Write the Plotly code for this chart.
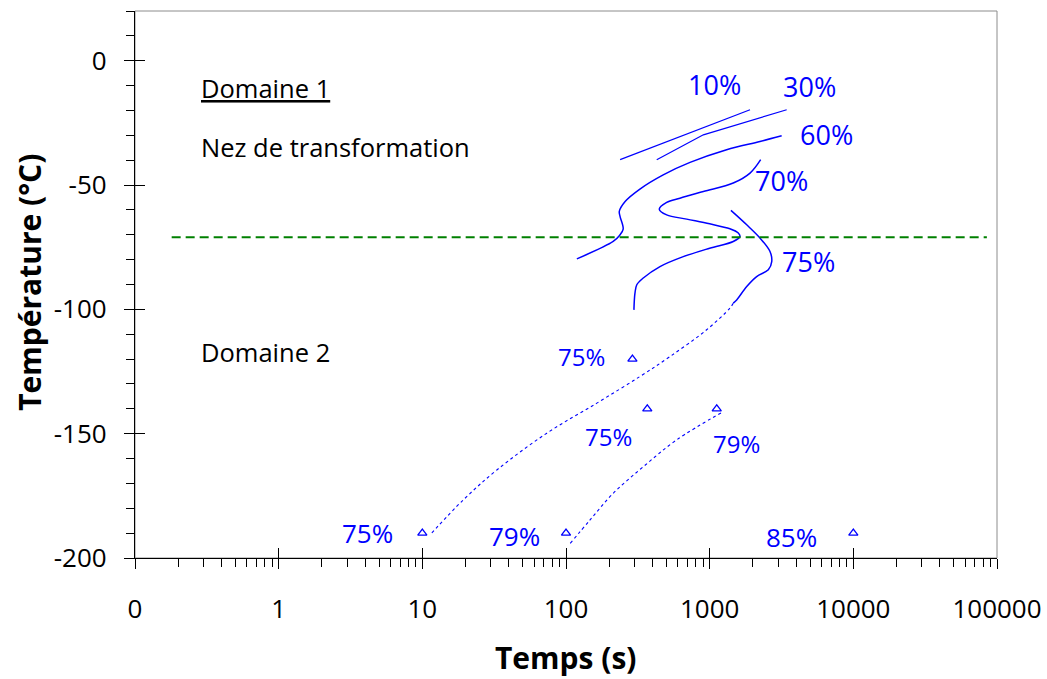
import math
import plotly.graph_objects as go

# ---------------- data ----------------
c10_t = [238, 1910]
c10_T = [-39.8, -19.7]
c30_t = [428, 904, 3436]
c30_T = [-39.8, -29.8, -19.7]
c60_t = [119, 213, 235, 250, 238, 235, 258, 327, 475, 730, 1312, 2239, 3170]
c60_T = [-79.7, -72.7, -70.4, -67.7, -62.7, -60.6, -56.6, -51.6, -45.9, -40.9, -35.8, -32.5, -30.2]
c70_t = [2265, 1910, 1459, 904, 621, 502, 446, 502, 692, 1000, 1383, 1582, 1625,
         1459, 1000, 655, 451, 345, 311, 302, 297]
c70_T = [-39.8, -45.2, -49.2, -52.6, -55.3, -57.0, -59.7, -62.0, -63.7, -65.6, -67.6, -69.3, -70.7,
         -72.7, -75.4, -78.8, -82.8, -87.4, -90.1, -93.5, -100.2]
c75_t = [1406, 1811, 2239, 2630, 2704, 2560, 2124, 1811, 1542, 1459]
c75_T = [-60.2, -66.0, -71.3, -76.7, -80.8, -84.1, -86.8, -90.8, -96.2, -97.5]
c75d_t = [1459, 1383, 953, 529, 327, 164, 73.5, 33, 19.3, 11.3]
c75d_T = [-97.5, -99.5, -108.2, -119.0, -127.0, -137.7, -149.8, -164.6, -176.6, -190.7]
c79d_t = [107, 147, 213, 345, 589, 1245]
c79d_T = [-194.1, -184.7, -174.0, -163.3, -152.5, -141.1]
pts_t = [290, 368, 1120, 10, 100, 10000]
pts_T = [-120, -140, -140, -190, -190, -190]
nose_t = [0.18, 85000]
nose_T = [-71, -71]

big_labels = ["10%", "30%", "60%", "70%", "75%"]
big_t = [1072, 4989, 6457, 3184, 4909]
big_T = [-9.7, -10.5, -29.8, -48.3, -80.9]
small_labels = ["75%", "75%", "79%"]
small_t = [129, 199, 1549]
small_T = [-119.1, -151.3, -154.1]
bottom_labels = ["75%", "79%", "85%"]
bottom_t = [4.12, 43.5, 3741]
bottom_T = [-189.9, -191.1, -191.5]
domain_texts = ["<u>Domaine 1</u>", "Nez de transformation", "Domaine 2"]
domain_t = [0.279, 0.279, 0.279]
domain_T = [-10.9, -34.6, -117.1]

x_tickvals = [0.1, 1, 10, 100, 1000, 10000, 100000]
x_ticktext = ["0", "1", "10", "100", "1000", "10000", "100000"]
x_minor = [k * 10.0 ** n for n in range(-1, 5) for k in range(2, 10)]
y_tickvals = [0, -50, -100, -150, -200]
y_ticktext = ["0", "-50", "-100", "-150", "-200"]

BLUE = "#0000FF"
FONT = "Open Sans"

fig = go.Figure()

for t, T in [(c10_t, c10_T), (c30_t, c30_T)]:
    fig.add_trace(go.Scatter(x=t, y=T, mode="lines", line=dict(color=BLUE, width=1.2),
                             showlegend=False, hoverinfo="skip"))
for t, T in [(c60_t, c60_T), (c70_t, c70_T), (c75_t, c75_T)]:
    fig.add_trace(go.Scatter(x=t, y=T, mode="lines", line=dict(color=BLUE, width=1.5),
                             line_shape="spline", showlegend=False, hoverinfo="skip"))
for t, T in [(c75d_t, c75d_T), (c79d_t, c79d_T)]:
    fig.add_trace(go.Scatter(x=t, y=T, mode="lines", line_shape="spline",
                             line=dict(color=BLUE, width=1.1, dash="3px,3px"),
                             showlegend=False, hoverinfo="skip"))
fig.add_trace(go.Scatter(x=nose_t, y=nose_T, mode="lines",
                         line=dict(color="#008000", width=2, dash="9px,5px"),
                         showlegend=False, hoverinfo="skip"))
fig.add_trace(go.Scatter(x=pts_t, y=pts_T, mode="markers",
                         marker=dict(symbol="triangle-up-open", size=8, color=BLUE,
                                     line=dict(width=1.3, color=BLUE)),
                         showlegend=False, hoverinfo="skip"))
# dummy traces for the overlay axes (inner half of major ticks)
fig.add_trace(go.Scatter(x=[], y=[], xaxis="x2", yaxis="y", showlegend=False))
fig.add_trace(go.Scatter(x=[], y=[], xaxis="x", yaxis="y2", showlegend=False))

ann = []
for txt, t, T in zip(big_labels, big_t, big_T):
    ann.append(dict(x=math.log10(t), y=T, xref="x", yref="y", text=txt, showarrow=False,
                    font=dict(family=FONT, size=27, color=BLUE)))
for txt, t, T in zip(small_labels, small_t, small_T):
    ann.append(dict(x=math.log10(t), y=T, xref="x", yref="y", text=txt, showarrow=False,
                    font=dict(family=FONT, size=24, color=BLUE)))
for txt, t, T in zip(bottom_labels, bottom_t, bottom_T):
    ann.append(dict(x=math.log10(t), y=T, xref="x", yref="y", text=txt, showarrow=False,
                    font=dict(family=FONT, size=26, color=BLUE)))
for txt, t, T in zip(domain_texts, domain_t, domain_T):
    ann.append(dict(x=math.log10(t), y=T, xref="x", yref="y", text=txt, showarrow=False,
                    xanchor="left", font=dict(family=FONT, size=25.5, color="black")))
ann.append(dict(x=0.5, y=-0.182, xref="paper", yref="paper", text="<b>Temps (s)</b>",
                showarrow=False, xanchor="center", yanchor="middle",
                font=dict(family=FONT, size=30, color="black")))
ann.append(dict(x=-0.1218, y=0.503, xref="paper", yref="paper", text="<b>Température (°C)</b>",
                showarrow=False, xanchor="center", yanchor="middle", textangle=-90,
                font=dict(family=FONT, size=30, color="black")))

axis_common = dict(showgrid=False, zeroline=False, tickcolor="black", tickwidth=1,
                   automargin=False)

fig.update_layout(
    width=1047, height=679,
    margin=dict(l=135, r=50, t=11, b=121, autoexpand=False),
    paper_bgcolor="white", plot_bgcolor="white",
    font=dict(family=FONT, size=26, color="black"),
    annotations=ann,
    shapes=[dict(type="rect", xref="paper", yref="paper", x0=0, x1=1, y0=0, y1=1,
                 line=dict(color="#8c8c8c", width=1), layer="below")],
    xaxis=dict(type="log", range=[-1, 5], showline=True, linecolor="black", linewidth=1.2,
               ticks="outside", ticklen=10, tickvals=x_tickvals, ticktext=x_ticktext,
               ticklabelstandoff=18,
               minor=dict(tickvals=x_minor, ticks="outside", ticklen=8, tickcolor="black",
                          showgrid=False),
               **axis_common),
    xaxis2=dict(type="log", range=[-1, 5], overlaying="x", anchor="y", side="bottom",
                ticks="inside", ticklen=10, tickvals=x_tickvals, showticklabels=False,
                showline=False, **axis_common),
    yaxis=dict(range=[-200, 20], showline=True, linecolor="black", linewidth=1.2,
               ticks="outside", ticklen=10, tickvals=y_tickvals, ticktext=y_ticktext,
               ticklabelstandoff=12,
               minor=dict(dtick=10, ticks="outside", ticklen=8, tickcolor="black",
                          showgrid=False),
               **axis_common),
    yaxis2=dict(range=[-200, 20], overlaying="y", anchor="x", side="left",
                ticks="inside", ticklen=10, tickvals=y_tickvals,
                showticklabels=False, showline=False, **axis_common),
)

fig.write_html("out.html", config={"displayModeBar": False},
               post_script="document.body.style.margin='0';document.body.style.overflow='hidden';")
